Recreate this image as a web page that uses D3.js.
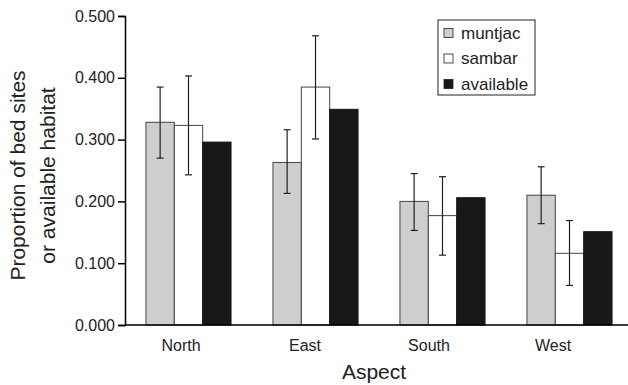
<!DOCTYPE html>
<html>
<head>
<meta charset="utf-8">
<script src="https://cdn.jsdelivr.net/npm/d3@7"></script>
<style>
  body { margin: 0; background: #fff; }
  svg { display: block; font-family: "Liberation Sans", Arial, sans-serif; }
</style>
</head>
<body>
<svg id="plot" width="628" height="385"></svg>
<script>
let aspects = ["North", "East", "South", "West"];
let series = ["muntjac", "sambar", "available"];

let muntjac = [0.328, 0.263, 0.200, 0.210];
let muntjacLo = [0.270, 0.213, 0.153, 0.164];
let muntjacHi = [0.385, 0.316, 0.245, 0.256];

let sambar = [0.323, 0.385, 0.177, 0.116];
let sambarLo = [0.243, 0.301, 0.113, 0.064];
let sambarHi = [0.403, 0.468, 0.240, 0.169];

let available = [0.296, 0.349, 0.206, 0.151];

let yTicks = [0, 0.1, 0.2, 0.3, 0.4, 0.5];

let colour = d3.scaleOrdinal()
    .domain(series)
    .range(["#cdcfce", "#ffffff", "#181818"]);

let data = aspects.map((a, i) => ({
  aspect: a,
  values: [
    {key: "muntjac", v: muntjac[i], lo: muntjacLo[i], hi: muntjacHi[i]},
    {key: "sambar", v: sambar[i], lo: sambarLo[i], hi: sambarHi[i]},
    {key: "available", v: available[i]}
  ]
}));

let width = 628, height = 385;
let margin = {top: 16, right: 0, bottom: 60, left: 125};

let svg = d3.select("#plot");

let x0 = d3.scaleBand()
    .domain(aspects)
    .range([margin.left, 633])
    .paddingInner(0.33)
    .paddingOuter(0.165);

let x1 = d3.scaleBand()
    .domain(series)
    .range([0, x0.bandwidth()]);

// category labels sit a little left of the bar groups in the original
let xLabel = d3.scalePoint()
    .domain(aspects)
    .range([181, 553]);

let y = d3.scaleLinear()
    .domain([0, 0.5])
    .range([height - margin.bottom, margin.top]);

// bars
let group = svg.append("g")
  .selectAll("g")
  .data(data)
  .join("g")
    .attr("transform", d => `translate(${x0(d.aspect)},0)`);

group.selectAll("rect")
  .data(d => d.values)
  .join("rect")
    .attr("x", d => x1(d.key))
    .attr("y", d => y(d.v))
    .attr("width", x1.bandwidth())
    .attr("height", d => y(0) - y(d.v))
    .attr("fill", d => colour(d.key))
    .attr("stroke", d => d.key === "available" ? "#181818" : "#444")
    .attr("stroke-width", 1);

// error bars
let err = group.selectAll("g.err")
  .data(d => d.values.filter(v => v.lo != null))
  .join("g")
    .attr("class", "err")
    .attr("stroke", "#222")
    .attr("stroke-width", 1.2);

err.append("line")
    .attr("x1", d => x1(d.key) + x1.bandwidth() / 2)
    .attr("x2", d => x1(d.key) + x1.bandwidth() / 2)
    .attr("y1", d => y(d.lo))
    .attr("y2", d => y(d.hi));

err.selectAll("line.cap")
  .data(d => [d.lo, d.hi].map(v => ({key: d.key, v})))
  .join("line")
    .attr("class", "cap")
    .attr("x1", d => x1(d.key) + x1.bandwidth() / 2 - 3.5)
    .attr("x2", d => x1(d.key) + x1.bandwidth() / 2 + 3.5)
    .attr("y1", d => y(d.v))
    .attr("y2", d => y(d.v));

// axes
let yAxis = g => g
    .attr("transform", `translate(${margin.left},0)`)
    .call(d3.axisLeft(y)
            .tickValues(yTicks)
            .tickFormat(d3.format(".3f"))
            .tickSize(7)
            .tickPadding(3))
    .call(g => g.select(".domain").attr("stroke-width", 1.5))
    .call(g => g.selectAll(".tick line").attr("stroke-width", 1.5))
    .call(g => g.selectAll(".tick text")
              .attr("font-size", 16)
              .attr("fill", "#222"));

svg.append("g").call(yAxis);

svg.append("line")
    .attr("x1", margin.left)
    .attr("x2", width)
    .attr("y1", y(0))
    .attr("y2", y(0))
    .attr("stroke", "#000")
    .attr("stroke-width", 1.5);

svg.append("g")
  .selectAll("text")
  .data(aspects)
  .join("text")
    .attr("x", d => xLabel(d))
    .attr("y", 351)
    .attr("text-anchor", "middle")
    .attr("font-size", 16)
    .attr("fill", "#222")
    .text(d => d);

// axis titles
svg.append("text")
    .attr("x", 374)
    .attr("y", 379)
    .attr("text-anchor", "middle")
    .attr("font-size", 21)
    .attr("fill", "#222")
    .text("Aspect");

let yTitle = svg.append("text")
    .attr("transform", `translate(0,${(margin.top + y(0)) / 2 + 5}) rotate(-90)`)
    .attr("text-anchor", "middle")
    .attr("font-size", 21)
    .attr("fill", "#222");

yTitle.append("tspan").attr("x", 0).attr("y", 25).text("Proportion of bed sites");
yTitle.append("tspan").attr("x", 0).attr("y", 55).text("or available habitat");

// legend
let legend = svg.append("g")
    .attr("transform", "translate(438,20)");

legend.append("rect")
    .attr("width", 97)
    .attr("height", 75)
    .attr("fill", "#fff")
    .attr("stroke", "#222")
    .attr("stroke-width", 1);

let item = legend.selectAll("g")
  .data(series)
  .join("g")
    .attr("transform", (d, i) => `translate(6,${13 + i * 25.5})`);

item.append("rect")
    .attr("x", 0)
    .attr("y", -4.5)
    .attr("width", 9)
    .attr("height", 9)
    .attr("fill", d => colour(d))
    .attr("stroke", "#222")
    .attr("stroke-width", 0.8);

item.append("text")
    .attr("x", 17)
    .attr("dy", "0.35em")
    .attr("font-size", 17)
    .attr("fill", "#222")
    .text(d => d);
</script>
</body>
</html>
